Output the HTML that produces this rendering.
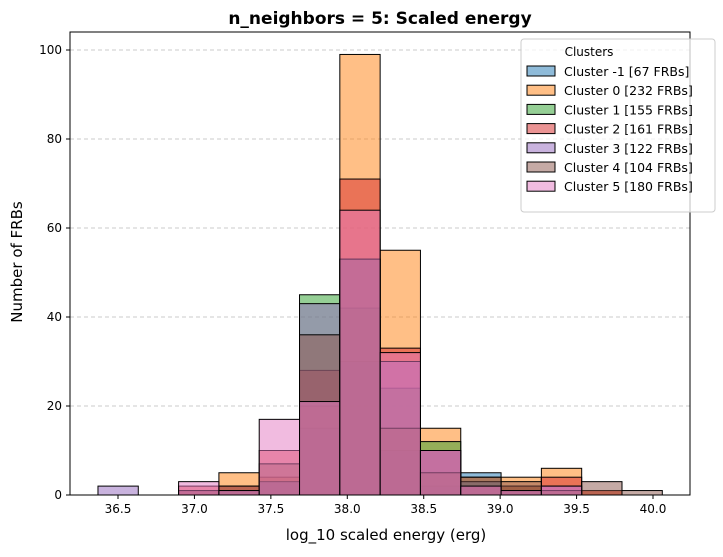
<!DOCTYPE html>
<html><head><meta charset="utf-8"><style>
body{margin:0;background:#fff;font-family:"Liberation Sans","DejaVu Sans",sans-serif}
svg text{font-family:"DejaVu Sans","Liberation Sans",sans-serif}
</style></head><body>
<svg id="chart" width="723" height="552"></svg>
<script>
const binStart = 36.369, binWidth = 0.2637;
const clusterNames = ["Cluster -1 [67 FRBs]","Cluster 0 [232 FRBs]","Cluster 1 [155 FRBs]","Cluster 2 [161 FRBs]","Cluster 3 [122 FRBs]","Cluster 4 [104 FRBs]","Cluster 5 [180 FRBs]"];
const colors = ["#1f77b4","#ff7f0e","#2ca02c","#d62728","#9467bd","#8c564b","#e377c2"];
const cm1 = [0,0,0,1,3,15,30,10,2,5,1,0,0,0];
const c0  = [0,0,1,5,4,20,99,55,15,4,4,6,1,0];
const c1  = [0,0,0,1,3,45,42,24,12,3,2,1,0,0];
const c2  = [0,0,2,2,10,28,71,33,10,2,2,4,1,0];
const c3  = [2,0,1,1,3,43,53,30,10,3,1,2,0,0];
const c4  = [0,0,1,2,7,36,53,15,5,4,3,1,3,1];
const c5  = [0,0,3,1,17,21,64,32,10,2,1,2,0,0];
const series = [cm1,c0,c1,c2,c3,c4,c5];
const xTicks = [36.5,37.0,37.5,38.0,38.5,39.0,39.5,40.0];
const yTicks = [0,20,40,60,80,100];

const L=70,R=690,T=32,B=495;
const xs = v => 118 + (v-36.5)*152.86;
const ys = v => 495 - v*4.45;
const svg=document.getElementById('chart');const NS="http://www.w3.org/2000/svg";
function mk(t,a,p){const e=document.createElementNS(NS,t);for(const k in a)e.setAttribute(k,a[k]);(p||svg).appendChild(e);return e;}
yTicks.forEach(v=>{
 const g=mk('line',{x1:L,x2:R,y1:ys(v),y2:ys(v),stroke:'#bbb','stroke-dasharray':'4,3','stroke-width':0.8});
 
 
 mk('line',{x1:L-4,x2:L,y1:ys(v),y2:ys(v),stroke:'#000'});
 const t=mk('text',{x:L-8,y:ys(v)+4,'text-anchor':'end','font-size':12});t.textContent=v;
 
 
});
series.forEach((s,ci)=>{
 s.forEach((v,i)=>{
  if(v<=0)return;
  const x0=xs(binStart+i*binWidth),x1=xs(binStart+(i+1)*binWidth);
  const r=mk('rect',{x:x0,y:ys(v),width:x1-x0,height:ys(0)-ys(v),fill:colors[ci],'fill-opacity':0.5,stroke:'#000','stroke-width':1});
  
  
 });
});
mk('rect',{x:L,y:T,width:R-L,height:B-T,fill:'none',stroke:'#000','stroke-width':1});
xTicks.forEach(v=>{
 mk('line',{x1:xs(v),x2:xs(v),y1:B,y2:B+4,stroke:'#000'});
 const t=mk('text',{x:xs(v),y:B+18,'text-anchor':'middle','font-size':12});t.textContent=v.toFixed(1);
 
 
});
let t=mk('text',{x:380,y:24,'text-anchor':'middle','font-size':17,'font-weight':'bold'});t.textContent='n_neighbors = 5: Scaled energy';


t=mk('text',{x:386,y:540,'text-anchor':'middle','font-size':15});t.textContent='log_10 scaled energy (erg)';


t=mk('text',{x:22,y:262,'text-anchor':'middle','font-size':15,transform:'rotate(-90 22 262)'});t.textContent='Number of FRBs';


const lg=mk('g',{});


mk('rect',{x:521,y:39,width:194,height:173,rx:3,fill:'#fff','fill-opacity':0.75,stroke:'#ccc'},lg);
t=mk('text',{x:589,y:56,'text-anchor':'middle','font-size':12},lg);t.textContent='Clusters';
clusterNames.forEach((n,i)=>{
 const y=64+i*19.2;
 mk('rect',{x:527,y:y+2,width:28,height:10,fill:colors[i],'fill-opacity':0.5,stroke:'#000'},lg);
 const tt=mk('text',{x:564,y:y+12,'font-size':12.5},lg);tt.textContent=n;
 
 
});
</script>
</body></html>
